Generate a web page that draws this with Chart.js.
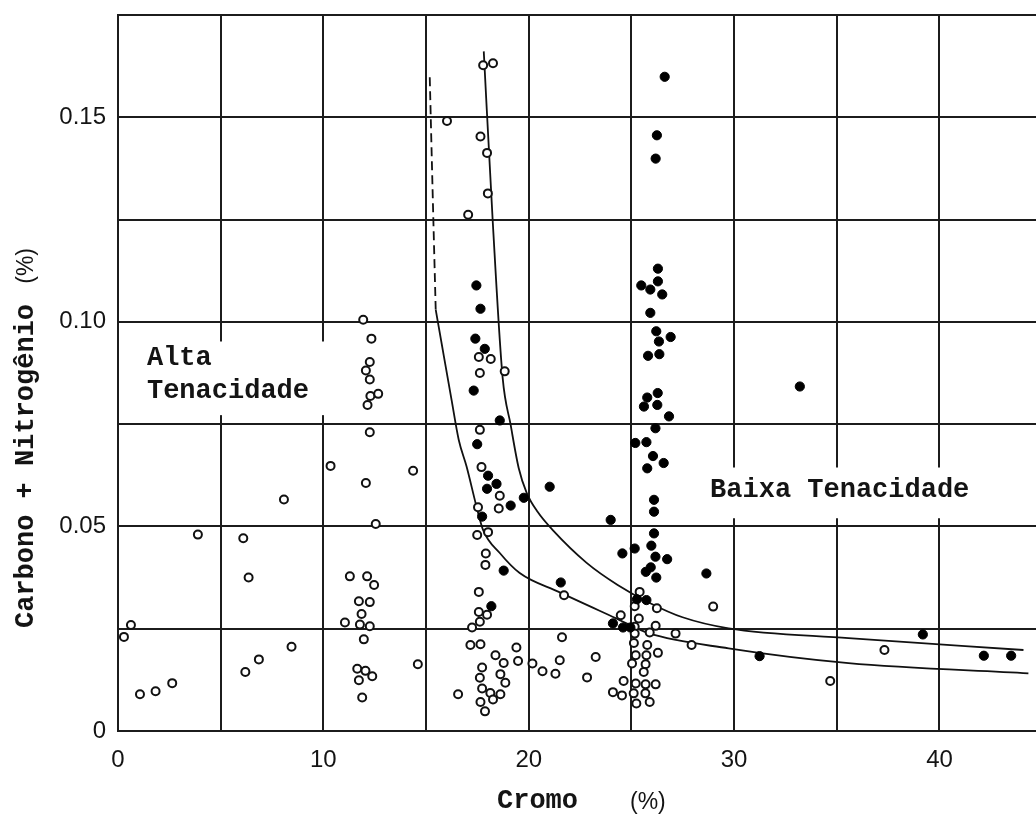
<!DOCTYPE html>
<html>
<head>
<meta charset="utf-8">
<script src="https://cdn.jsdelivr.net/npm/chart.js@4.4.1/dist/chart.umd.min.js"></script>
<style>
html,body{margin:0;padding:0;background:#fff;}
canvas{display:block;}
</style>
</head>
<body>
<canvas id="c" width="1036" height="814"></canvas>
<script>
// ---------- DATA ----------
// Open circles (Cr %, C+N %)
const openCr = [0.29,0.63,1.07,1.83,2.64,3.89,6.10,6.36,6.20,6.86,8.08,8.45,10.35,14.37,14.60,16.56,
  11.94,12.34,12.26,12.07,12.26,12.29,12.67,12.15,12.26,12.07,12.55,11.29,12.13,12.47,11.73,12.26,11.86,11.05,11.78,12.26,11.97,11.65,12.05,12.38,11.73,11.89,
  17.78,18.26,16.02,17.65,17.97,18.01,17.05,17.57,18.15,17.62,18.83,
  17.62,17.70,18.59,17.53,18.54,17.49,18.02,17.91,17.89,21.72,17.57,17.57,17.97,17.62,17.24,17.16,17.65,21.62,18.38,18.78,19.40,19.48,20.18,20.67,21.30,21.51,17.73,17.62,18.62,18.86,17.73,18.13,18.62,18.26,17.65,17.87,
  23.26,22.84,24.10,28.98,37.32,34.68,27.15,27.93,24.48,25.40,25.16,26.24,25.36,25.16,26.18,25.89,25.16,25.12,25.77,26.29,25.21,25.73,25.03,25.69,25.60,24.62,25.21,25.69,26.18,24.54,25.11,25.68,25.24,25.89];
const openCN = [0.0230,0.0259,0.0090,0.0097,0.0117,0.0480,0.0471,0.0375,0.0144,0.0175,0.0566,0.0206,0.0648,0.0636,0.0163,0.0090,
  0.1005,0.0959,0.0902,0.0881,0.0859,0.0819,0.0824,0.0797,0.0730,0.0606,0.0506,0.0378,0.0378,0.0357,0.0317,0.0315,0.0286,0.0265,0.0260,0.0256,0.0224,0.0152,0.0147,0.0134,0.0124,0.0082,
  0.1627,0.1632,0.1491,0.1453,0.1413,0.1314,0.1262,0.0914,0.0909,0.0875,0.0879,
  0.0736,0.0645,0.0575,0.0547,0.0544,0.0479,0.0486,0.0434,0.0406,0.0332,0.0340,0.0291,0.0284,0.0267,0.0253,0.0210,0.0212,0.0229,0.0185,0.0166,0.0204,0.0171,0.0165,0.0146,0.0140,0.0173,0.0155,0.0130,0.0139,0.0118,0.0104,0.0093,0.0090,0.0077,0.0071,0.0048,
  0.0181,0.0131,0.0095,0.0304,0.0198,0.0122,0.0238,0.0210,0.0283,0.0340,0.0305,0.0300,0.0275,0.0255,0.0257,0.0241,0.0238,0.0215,0.0210,0.0191,0.0185,0.0185,0.0165,0.0163,0.0144,0.0122,0.0116,0.0114,0.0114,0.0087,0.0092,0.0092,0.0067,0.0071];

// Filled circles (Cr %, C+N %)
const filledCr = [17.45,17.65,17.40,17.86,17.32,18.59,17.49,18.02,17.97,18.43,19.12,19.76,21.02,17.73,18.78,21.56,18.18,
  23.99,24.56,25.16,28.65,39.19,31.24,42.16,43.49,24.10,24.59,24.95,
  26.62,26.24,26.18,26.29,26.29,25.48,25.92,26.50,25.92,26.21,26.91,26.34,25.81,26.36,33.20,
  26.28,25.77,25.61,26.26,26.83,26.17,25.19,25.73,26.05,26.57,25.77,26.10,26.10,26.10,25.97,26.17,26.74,25.94,25.70,26.21,25.27,25.73];
const filledCN = [0.1089,0.1032,0.0959,0.0934,0.0832,0.0759,0.0701,0.0624,0.0592,0.0604,0.0551,0.0570,0.0597,0.0524,0.0392,0.0363,0.0305,
  0.0516,0.0434,0.0446,0.0385,0.0236,0.0183,0.0184,0.0184,0.0263,0.0253,0.0253,
  0.1599,0.1456,0.1399,0.1130,0.1099,0.1089,0.1079,0.1067,0.1022,0.0977,0.0963,0.0952,0.0917,0.0921,0.0842,
  0.0826,0.0815,0.0793,0.0797,0.0769,0.0740,0.0704,0.0706,0.0672,0.0655,0.0642,0.0565,0.0536,0.0483,0.0453,0.0426,0.0420,0.0400,0.0389,0.0375,0.0322,0.0320];

// Boundary curves
const upperCurveCr = [17.81,18.25,18.73,19.12,19.51,19.90,20.44,21.17,22.82,24.33,25.89,27.49,29.73,35.57,44.09];
const upperCurveCN = [0.1661,0.1243,0.0863,0.0748,0.0643,0.0582,0.0535,0.0491,0.0411,0.0357,0.0313,0.0278,0.0251,0.0227,0.0198];
const dashedCurveCr = [15.18,15.33,15.47];
const dashedCurveCN = [0.1598,0.1299,0.1030];
const lowerCurveCr = [15.47,15.77,16.24,16.59,16.97,17.46,17.78,18.59,19.56,21.46,24.23,25.84,29.73,35.57,44.33];
const lowerCurveCN = [0.1030,0.0944,0.0810,0.0712,0.0647,0.0548,0.0491,0.0435,0.0386,0.0340,0.0276,0.0239,0.0202,0.0166,0.0141];

// Ticks and texts
const xTickValues = [0,10,20,30,40];
const xTickText = ['0','10','20','30','40'];
const yTickValues = [0,0.05,0.10,0.15];
const yTickText = ['0','0.05','0.10','0.15'];
const xTitleText = 'Cromo';
const xUnitText = '(%)';
const yTitleText = 'Carbono + Nitrogênio ';
const yUnitText = '(%)';
const altaLines = ['Alta','Tenacidade'];
const baixaLines = ['Baixa Tenacidade'];

// ---------- CHART ----------
const toPts = (xs, ys) => xs.map((v, i) => ({x: v, y: ys[i]}));
const near = (a, b) => Math.abs(a - b) < 1e-7;
const isMult = (v, s) => near(v / s, Math.round(v / s));
const MONO = "bold 27px 'Liberation Mono', 'Courier New', monospace";
const SANS = "23px 'Liberation Sans', Arial, sans-serif";
const INK = '#141414';

const textPlugin = {
  id: 'texts',
  beforeDatasetsDraw(chart) {
    const {ctx} = chart;
    const x = chart.scales.x, y = chart.scales.y;
    ctx.save();
    // white boxes behind region labels (they interrupt the grid)
    const boxes = [[0.80, 10.40, 0.0952, 0.0772], [28.39, 42.60, 0.0644, 0.0520]];
    ctx.fillStyle = '#fff';
    boxes.forEach(b => {
      const l = x.getPixelForValue(b[0]), r = x.getPixelForValue(b[1]);
      const t = y.getPixelForValue(b[2]), btm = y.getPixelForValue(b[3]);
      ctx.fillRect(l, t, r - l, btm - t);
    });
    ctx.fillStyle = INK;
    ctx.font = MONO;
    ctx.textBaseline = 'alphabetic';
    ctx.textAlign = 'left';
    const ax = x.getPixelForValue(1.41), ay = y.getPixelForValue(0.0894);
    altaLines.forEach((s, i) => ctx.fillText(s, ax, ay + i * 33));
    const bx = x.getPixelForValue(28.83), by = y.getPixelForValue(0.0572);
    baixaLines.forEach((s, i) => ctx.fillText(s, bx, by + i * 33));
    ctx.restore();
  },
  afterDraw(chart) {
    const {ctx, chartArea} = chart;
    ctx.save();
    ctx.fillStyle = INK;
    ctx.textBaseline = 'alphabetic';
    ctx.textAlign = 'left';
    // x title
    ctx.font = MONO;
    const xl = chartArea.left + 379;
    const xb = 808;
    ctx.fillText(xTitleText, xl, xb);
    ctx.font = SANS;
    ctx.fillText(xUnitText, xl + 133, xb + 1);
    // y title
    ctx.translate(33, 628);
    ctx.rotate(-Math.PI / 2);
    ctx.font = MONO;
    ctx.fillText(yTitleText, 0, 0);
    const w = ctx.measureText(yTitleText).width;
    ctx.font = SANS;
    ctx.fillText(yUnitText, w + 4, 0);
    ctx.restore();
  }
};

const gridColor = (step) => (c) => (c.tick && isMult(c.tick.value, step)) ? '#1c1c1c' : 'rgba(0,0,0,0)';
const TICK_FONT = {family: "'Liberation Sans', Arial, sans-serif", size: 24};

new Chart(document.getElementById('c'), {
  type: 'scatter',
  data: {
    datasets: [
      {label: 'filled', data: toPts(filledCr, filledCN), pointRadius: 4.6, pointBorderWidth: 1,
       pointBackgroundColor: '#000', pointBorderColor: '#000', showLine: false},
      {label: 'open', data: toPts(openCr, openCN), pointRadius: 4, pointBorderWidth: 2,
       pointBackgroundColor: '#fff', pointBorderColor: '#111', showLine: false},
      {label: 'upper', type: 'line', data: toPts(upperCurveCr, upperCurveCN), borderColor: '#111', borderWidth: 1.8,
       pointRadius: 0, fill: false, cubicInterpolationMode: 'monotone'},
      {label: 'lower', type: 'line', data: toPts(lowerCurveCr, lowerCurveCN), borderColor: '#111', borderWidth: 1.8,
       pointRadius: 0, fill: false, cubicInterpolationMode: 'monotone'},
      {label: 'dashed', type: 'line', data: toPts(dashedCurveCr, dashedCurveCN), borderColor: '#111', borderWidth: 1.8,
       borderDash: [9, 5], pointRadius: 0, fill: false, cubicInterpolationMode: 'monotone'}
    ]
  },
  options: {
    responsive: false,
    animation: false,
    devicePixelRatio: 1,
    layout: {autoPadding: false, padding: {top: 15, right: 0, bottom: 0, left: 0}},
    plugins: {legend: {display: false}, tooltip: {enabled: false}},
    scales: {
      x: {
        type: 'linear', min: 0, max: 44.7,
        afterFit(s) { s.height = 83; s.paddingLeft = 0; s.paddingRight = 0; },
        grid: {color: gridColor(5), lineWidth: 2, drawTicks: false},
        border: {display: true, color: '#1c1c1c', width: 2},
        ticks: {
          stepSize: 5, autoSkip: false, maxRotation: 0, padding: 15, color: INK, font: TICK_FONT,
          callback: (v) => { const i = xTickValues.findIndex(t => near(t, v)); return i >= 0 ? xTickText[i] : ''; }
        }
      },
      y: {
        type: 'linear', min: 0, max: 0.175,
        afterFit(s) { s.width = 118; s.paddingTop = 0; s.paddingBottom = 0; },
        grid: {color: gridColor(0.025), lineWidth: 2, drawTicks: false},
        border: {display: true, color: '#1c1c1c', width: 2},
        ticks: {
          stepSize: 0.025, autoSkip: false, padding: 12, color: INK, font: TICK_FONT,
          callback: (v) => { const i = yTickValues.findIndex(t => near(t, v)); return i >= 0 ? yTickText[i] : ''; }
        }
      }
    }
  },
  plugins: [textPlugin]
});
</script>
</body>
</html>
